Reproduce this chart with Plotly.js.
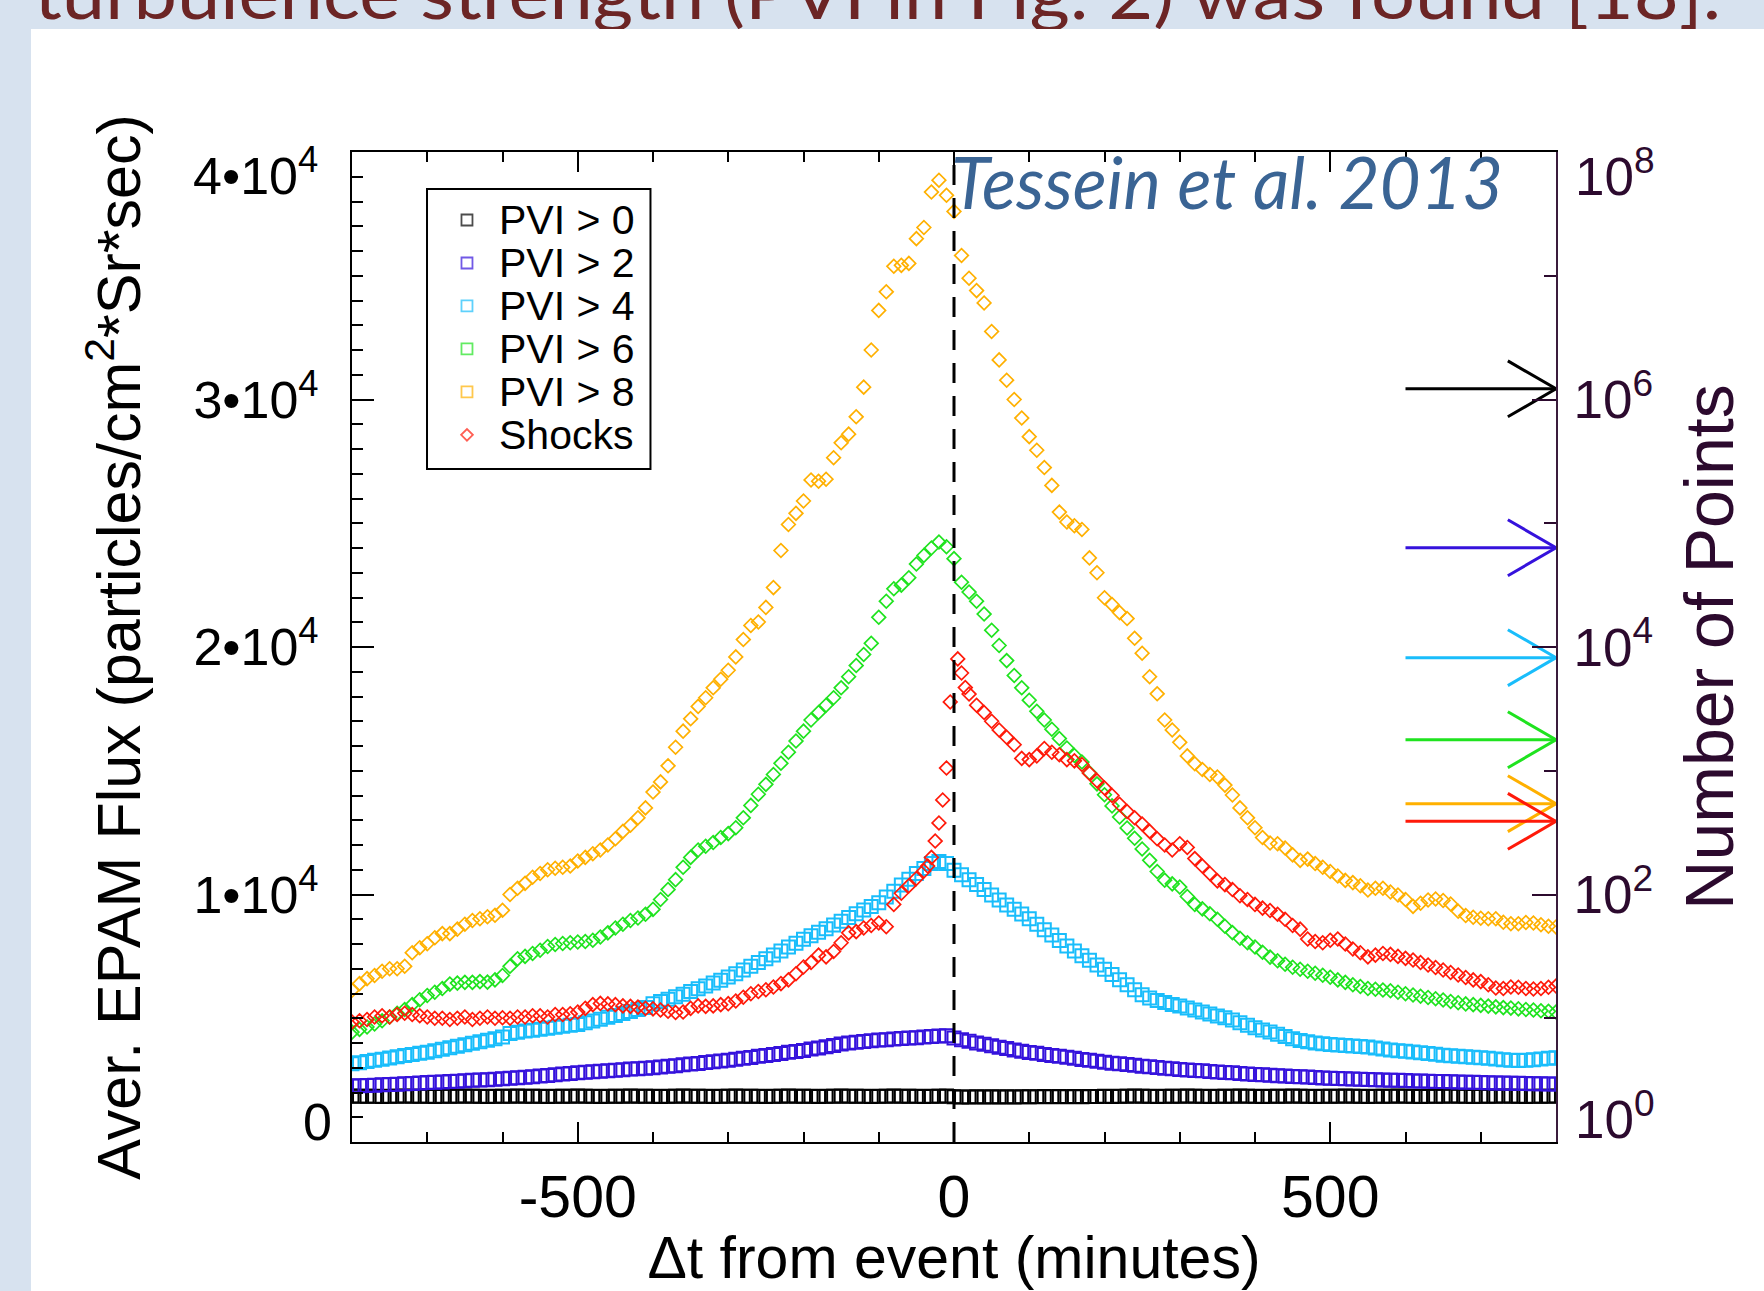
<!DOCTYPE html>
<html>
<head>
<meta charset="utf-8">
<script src="https://cdn.plot.ly/plotly-3.0.1.min.js"></script>
<style>
html,body{margin:0;padding:0;width:1764px;height:1291px;overflow:hidden;background:#d7e2ef;}
#panel{position:absolute;left:31px;top:29px;width:1733px;height:1262px;background:#ffffff;}
#chart{position:absolute;left:0;top:0;width:1764px;height:1291px;}
#slide{position:absolute;left:0;top:0;}
</style>
</head>
<body>
<svg id="slide" width="1764" height="40"><text x="34" y="19" font-family="Lato, 'Open Sans', sans-serif" font-size="70" fill="#6c2525" textLength="1687" lengthAdjust="spacingAndGlyphs">turbulence strength (PVI in Fig. 2) was found [18].</text></svg>
<div id="panel"></div>
<div id="chart"></div>
<script>
// ---------------- data ----------------
const seriesNames  = ['PVI > 0','PVI > 2','PVI > 4','PVI > 6','PVI > 8','Shocks'];
const seriesColors = ['#000000','#3512dc','#19bdfb','#1fe31f','#ffb000','#ff1a0a'];

// time from event (minutes), shared by the PVI curves
const timeMin = [-800,-790,-780,-770,-760,-750,-740,-730,-720,-710,
-700,-690,-680,-670,-660,-650,-640,-630,-620,-610,
-600,-590,-580,-570,-560,-550,-540,-530,-520,-510,
-500,-490,-480,-470,-460,-450,-440,-430,-420,-410,
-400,-390,-380,-370,-360,-350,-340,-330,-320,-310,
-300,-290,-280,-270,-260,-250,-240,-230,-220,-210,
-200,-190,-180,-170,-160,-150,-140,-130,-120,-110,
-100,-90,-80,-70,-60,-50,-40,-30,-20,-10,
0,10,20,30,40,50,60,70,80,90,
100,110,120,130,140,150,160,170,180,190,
200,210,220,230,240,250,260,270,280,290,
300,310,320,330,340,350,360,370,380,390,
400,410,420,430,440,450,460,470,480,490,
500,510,520,530,540,550,560,570,580,590,
600,610,620,630,640,650,660,670,680,690,
700,710,720,730,740,750,760,770,780,790,
800];

const fluxPVI0 = [1860,1850,1850,1850,1840,1850,1850,1860,1850,1850,
1850,1840,1850,1850,1850,1860,1850,1850,1840,1850,
1850,1850,1860,1850,1850,1850,1840,1850,1850,1850,
1860,1850,1850,1840,1850,1850,1850,1860,1850,1850,
1850,1840,1850,1850,1860,1850,1850,1850,1840,1850,
1850,1860,1850,1850,1850,1840,1850,1850,1860,1850,
1850,1850,1840,1850,1850,1860,1850,1850,1850,1840,
1850,1850,1860,1850,1850,1850,1840,1850,1850,1860,
1830,1820,1820,1830,1820,1830,1820,1830,1820,1830,
1830,1830,1840,1830,1840,1830,1840,1830,1840,1840,
1850,1840,1850,1850,1860,1850,1850,1840,1850,1850,
1850,1860,1850,1850,1840,1850,1850,1850,1860,1850,
1850,1840,1850,1850,1850,1860,1850,1850,1840,1850,
1850,1850,1860,1850,1850,1840,1850,1850,1850,1860,
1850,1850,1840,1850,1850,1850,1860,1850,1850,1840,
1850,1850,1850,1860,1850,1850,1840,1850,1850,1850,
1860];

const fluxPVI2 = [2260,2275,2280,2295,2310,2325,2335,2350,2365,2380,
2400,2410,2425,2445,2455,2470,2490,2505,2520,2540,
2560,2575,2600,2615,2640,2665,2690,2715,2745,2770,
2800,2815,2840,2855,2880,2895,2920,2945,2960,2980,
3000,3035,3060,3085,3120,3150,3175,3210,3245,3270,
3300,3345,3380,3415,3460,3500,3535,3580,3625,3660,
3700,3755,3800,3845,3900,3955,3995,4030,4065,4090,
4120,4135,4160,4185,4200,4215,4240,4265,4280,4290,
4200,4135,4070,4005,3950,3885,3830,3775,3720,3665,
3620,3585,3540,3495,3460,3425,3380,3335,3300,3265,
3220,3185,3160,3135,3100,3065,3040,3015,2980,2955,
2930,2905,2890,2875,2850,2825,2810,2795,2770,2745,
2730,2715,2700,2680,2665,2650,2640,2625,2605,2590,
2580,2570,2555,2550,2540,2525,2520,2510,2495,2490,
2480,2465,2460,2455,2445,2440,2430,2425,2415,2410,
2400,2395,2385,2385,2375,2370,2365,2355,2350,2345,
2340];

const fluxPVI4 = [3160,3200,3250,3300,3340,3390,3440,3490,3540,3590,
3630,3690,3750,3810,3870,3930,3990,4050,4110,4170,
4240,4380,4430,4480,4520,4560,4600,4640,4680,4720,
4750,4820,4890,4960,5040,5110,5190,5270,5350,5430,
5590,5680,5770,5870,5970,6080,6190,6300,6420,6540,
6665,6800,6950,7100,7250,7400,7560,7720,7880,8030,
8190,8330,8470,8620,8770,8920,9070,9220,9370,9520,
9670,9900,10130,10380,10620,10850,11050,11250,11330,11250,
10980,10800,10600,10400,10200,9980,9780,9580,9400,9210,
9020,8800,8580,8360,8140,7920,7720,7530,7340,7150,
6975,6770,6560,6350,6150,5950,5820,5720,5640,5560,
5490,5410,5330,5250,5170,5090,5020,4930,4820,4720,
4620,4530,4440,4350,4260,4170,4100,4050,4000,3970,
3940,3920,3900,3880,3860,3840,3800,3760,3720,3690,
3670,3640,3610,3580,3550,3510,3480,3460,3440,3420,
3400,3380,3350,3320,3300,3290,3300,3320,3350,3380,
3400];

const fluxPVI6 = [4440,4550,4650,4770,4900,5050,5200,5350,5550,5750,
5920,6050,6200,6380,6420,6450,6450,6480,6460,6550,
6730,7100,7400,7500,7620,7750,7900,7980,8020,8050,
8080,8100,8150,8280,8450,8650,8800,8950,9050,9200,
9400,9800,10200,10600,11100,11500,11800,11950,12100,12300,
12460,12700,13100,13600,14050,14450,14850,15300,15750,16200,
16600,17050,17350,17650,17950,18350,18800,19250,19700,20150,
21200,21850,22350,22500,22800,23350,23700,24000,24240,24050,
23570,22620,22220,21850,21330,20680,20060,19450,18850,18350,
17850,17400,17050,16680,16300,15920,15620,15350,14920,14470,
14030,13580,13130,12690,12270,11840,11380,10930,10580,10430,
10300,9920,9600,9420,9220,9000,8720,8460,8230,8050,
7880,7670,7470,7320,7180,7060,6980,6900,6820,6740,
6660,6550,6450,6350,6280,6200,6170,6140,6110,6050,
5990,5940,5890,5840,5790,5740,5680,5630,5580,5550,
5520,5490,5460,5430,5410,5380,5350,5330,5300,5280,
5250];

const fluxPVI8 = [6130,6400,6600,6730,6900,7000,7000,7100,7650,7850,
8010,8250,8420,8420,8600,8800,8950,9020,9100,9160,
9360,10000,10250,10450,10700,10850,11000,11060,11100,11150,
11350,11500,11650,11800,12000,12250,12550,12800,13100,13500,
14140,14550,15200,15950,16600,17100,17600,17950,18350,18700,
19060,19600,20300,20870,21010,21600,22400,23900,24950,25400,
25900,26750,26700,26780,27650,28250,28600,29300,30500,32000,
33600,34350,35380,35420,35500,36500,36950,38380,38860,38250,
37600,35820,34900,34400,33900,32750,31600,30780,30000,29250,
28500,27950,27250,26530,25450,25050,24900,24750,23600,23000,
21990,21720,21390,21150,20350,19750,18800,18110,17050,16650,
16150,15600,15280,15050,14850,14750,14420,14020,13500,13100,
12700,12300,12080,12050,11880,11600,11380,11430,11250,11100,
10930,10750,10570,10480,10350,10180,10250,10250,10100,9980,
9800,9520,9650,9780,9820,9760,9620,9320,9150,9080,
9040,9020,9020,8880,8820,8820,8870,8850,8780,8720,
8690];

// shocks: finer sampling around the event
const shockTime = [-800,-790,-780,-770,-760,-750,-740,-730,-720,-710,
-700,-690,-680,-670,-660,-650,-640,-630,-620,-610,
-600,-590,-580,-570,-560,-550,-540,-530,-520,-510,
-500,-490,-480,-470,-460,-450,-440,-430,-420,-410,
-400,-390,-380,-370,-360,-350,-340,-330,-320,-310,
-300,-290,-280,-270,-260,-250,-240,-230,-220,-210,
-200,-190,-180,-170,-160,-150,-140,-130,-120,-110,
-100,-90,-80,-70,-60,-50,-40,
-35,-30,-25,-20,-15,-10,-5,
5,10,15,20,
30,40,50,60,70,80,90,100,
110,120,130,140,150,160,170,180,190,200,
210,220,230,240,250,260,270,280,290,300,
310,320,330,340,350,360,370,380,390,400,
410,420,430,440,450,460,470,480,490,500,
510,520,530,540,550,560,570,580,590,600,
610,620,630,640,650,660,670,680,690,700,
710,720,730,740,750,760,770,780,790,800];

const shockFlux = [4850,4900,4950,5050,5100,5050,5150,5200,5150,5100,
5050,5000,5000,4950,5000,5050,4950,5000,5050,5000,
5020,5000,5050,5050,5100,5100,5050,5150,5150,5180,
5250,5400,5550,5600,5580,5550,5500,5480,5450,5400,
5380,5330,5280,5230,5250,5400,5500,5480,5500,5550,
5590,5700,5850,5990,6080,6150,6260,6400,6550,6800,
7070,7250,7550,7480,7700,8050,8450,8500,8650,8750,
8850,8700,9600,10050,10350,10650,10950,
11150,11500,12160,12890,13820,15110,17780,
19520,18950,18360,18100,
17650,17350,17000,16650,16350,16050,15500,15450,
15600,15900,15750,15650,15450,15400,15250,14900,14600,14300,
14000,13650,13350,13100,12850,12550,12250,12000,11800,12050,
11900,11450,11150,10850,10550,10400,10200,9950,9800,9600,
9450,9350,9200,9000,8750,8600,8200,8100,8050,8150,
8200,8000,7800,7650,7480,7550,7620,7580,7500,7420,
7350,7250,7150,7050,6950,6850,6750,6650,6550,6480,
6350,6220,6200,6260,6250,6200,6180,6200,6250,6300];

// number of points in each sample (right axis arrows)
const pointCounts = [1.22e6, 6.34e4, 8.2e3, 1.78e3, 542, 390];

// axis ticks; the end labels are drawn nudged inward, as in the original figure
const yTickVals  = [0, 10000, 20000, 30000, 40000];
const yTickText  = ['0','1•10<sup>4</sup>','2•10<sup>4</sup>','3•10<sup>4</sup>','4•10<sup>4</sup>'];
const xTickVals  = [-500, 0, 500];
const xTickText  = ['-500','0','500'];
const y2TickVals = [1, 100, 1e4, 1e6, 1e8];
const y2TickText = ['10<sup>0</sup>','10<sup>2</sup>','10<sup>4</sup>','10<sup>6</sup>','10<sup>8</sup>'];
const y2MinorVals = [10, 1000, 1e5, 1e7];

// ---------------- styling ----------------
const FONT = 'Liberation Sans, Arial, Helvetica, sans-serif';
const PURPLE = '#2c0a2e';
const seriesFlux = [fluxPVI0, fluxPVI2, fluxPVI4, fluxPVI6, fluxPVI8, shockFlux];
const seriesTime = [timeMin, timeMin, timeMin, timeMin, timeMin, shockTime];
const plotSymbols = ['square-open','square-open','square-open','diamond-open','diamond-open','diamond-open'];
const plotSizes   = [13, 13, 13, 10.5, 10.5, 10.5];
const plotLineW   = [2, 2, 2, 1.7, 1.7, 1.7];
const legendSymbols = ['square-open','square-open','square-open','square-open','square-open','diamond-open'];

const traces = [];
for (let i = 0; i < seriesNames.length; i++) {
  traces.push({
    type: 'scatter', mode: 'markers', name: seriesNames[i],
    x: seriesTime[i], y: seriesFlux[i],
    xaxis: 'x', yaxis: 'y', showlegend: false,
    marker: {symbol: plotSymbols[i], size: plotSizes[i], color: seriesColors[i],
             line: {color: seriesColors[i], width: plotLineW[i]}},
    hoverinfo: 'x+y+name'
  });
}

// arrows marking number of points (on log right axis)
const ARROW_START = 600, ARROW_END = 800, HEAD_START = 736, HEAD_DEC = 0.226;
const headF = Math.pow(10, HEAD_DEC);
for (let i = 0; i < pointCounts.length; i++) {
  const v = pointCounts[i];
  traces.push({
    type: 'scatter', mode: 'lines', xaxis: 'x', yaxis: 'y2', showlegend: false,
    x: [ARROW_START, ARROW_END, null, HEAD_START, ARROW_END, HEAD_START],
    y: [v, v, null, v * headF, v, v / headF],
    line: {color: seriesColors[i], width: 3}, hoverinfo: 'skip'
  });
}

// hand-built legend (symbols on an overlay 0..1 axis)
const LEG = {x0: 0.0623, x1: 0.2479, y0: 0.6798, y1: 0.9626,
             symX: 0.0955, textX: 0.1204, rowTop: 0.9313, rowStep: 0.0434};
const legY = seriesNames.map((_, i) => LEG.rowTop - i * LEG.rowStep);
traces.push({
  type: 'scatter', mode: 'markers', xaxis: 'x3', yaxis: 'y3', showlegend: false,
  x: seriesNames.map(() => LEG.symX), y: legY, cliponaxis: false,
  marker: {symbol: legendSymbols, size: legendSymbols.map(s => s === 'diamond-open' ? 9 : 11),
           color: seriesColors, line: {color: seriesColors, width: 1.8}},
  hoverinfo: 'skip'
});

const annotations = seriesNames.map((n, i) => ({
  xref: 'paper', yref: 'paper', x: LEG.textX, y: legY[i], xanchor: 'left', yanchor: 'middle',
  text: n, showarrow: false, font: {family: FONT, size: 41, color: '#000'}
}));
annotations.push({
  xref: 'x', yref: 'paper', x: 0, y: 0.970, xanchor: 'left', yanchor: 'middle', xshift: -5,
  text: '<i>Tessein et al. 2013</i>', showarrow: false,
  font: {family: 'Lato, Open Sans, sans-serif', size: 71, color: '#3a6494'}
});

// end-of-axis tick labels, nudged inward like the original
const endIdx = [0, yTickVals.length - 1];
const yTickTextAxis = yTickText.map((t, i) => endIdx.includes(i) ? '' : t);
const y2TickTextAxis = y2TickText.map((t, i) => endIdx.includes(i) ? '' : t);
const END = {leftTop: [-32, -20], leftBottom: [-18, 20], rightTop: [17, -20], rightBottom: [17, 27]};
endIdx.forEach(i => {
  const atTop = i === yTickVals.length - 1;
  const L = atTop ? END.leftTop : END.leftBottom;
  const R = atTop ? END.rightTop : END.rightBottom;
  annotations.push({
    xref: 'paper', yref: 'paper', x: 0, y: atTop ? 1 : 0, xanchor: 'right', yanchor: 'middle',
    xshift: L[0], yshift: L[1], showarrow: false,
    text: yTickText[i], font: {family: FONT, size: 52, color: '#000'}
  });
  annotations.push({
    xref: 'paper', yref: 'paper', x: 1, y: atTop ? 1 : 0, xanchor: 'left', yanchor: 'middle',
    xshift: R[0], yshift: R[1], showarrow: false,
    text: y2TickText[i], font: {family: FONT, size: 53, color: PURPLE}
  });
});

const layout = {
  width: 1764, height: 1291,
  margin: {l: 352, r: 208, t: 152, b: 149, pad: 0},
  paper_bgcolor: 'rgba(0,0,0,0)', plot_bgcolor: 'rgba(0,0,0,0)',
  showlegend: false,
  font: {family: FONT, color: '#000'},
  xaxis: {
    range: [-800, 800], tickmode: 'array', tickvals: xTickVals, ticktext: xTickText,
    ticks: 'inside', ticklen: 20, tickwidth: 2, tickcolor: '#000',
    showline: true, linewidth: 2, linecolor: '#000', mirror: 'ticks',
    showgrid: false, zeroline: false,
    minor: {dtick: 100, tick0: 0, ticks: 'inside', ticklen: 10, tickwidth: 2, tickcolor: '#000', showgrid: false},
    tickfont: {family: FONT, size: 59, color: '#000'}, ticklabelstandoff: 2,
    title: {text: 'Δt from event (minutes)', font: {family: FONT, size: 59, color: '#000'}, standoff: 36}
  },
  yaxis: {
    range: [0, 40000], tickmode: 'array', tickvals: yTickVals, ticktext: yTickTextAxis,
    ticks: 'inside', ticklen: 22, tickwidth: 2, tickcolor: '#000',
    showline: true, linewidth: 2, linecolor: '#000', mirror: false,
    showgrid: false, zeroline: false,
    minor: {dtick: 1000, tick0: 0, ticks: 'inside', ticklen: 11, tickwidth: 2, tickcolor: '#000', showgrid: false},
    tickfont: {family: FONT, size: 52, color: '#000'}, ticklabelstandoff: 21,
    title: {text: 'Aver. EPAM Flux (particles/cm<sup>2</sup>*Sr*sec)', font: {family: FONT, size: 61, color: '#000'}, standoff: 33}
  },
  yaxis2: {
    type: 'log', range: [0, 8], overlaying: 'y', side: 'right', anchor: 'x',
    tickmode: 'array', tickvals: y2TickVals, ticktext: y2TickTextAxis,
    ticks: 'inside', ticklen: 24, tickwidth: 2, tickcolor: PURPLE,
    showline: true, linewidth: 2, linecolor: '#3a1c3c',
    showgrid: false, zeroline: false,
    minor: {tickvals: y2MinorVals, ticks: 'inside', ticklen: 12, tickwidth: 2, tickcolor: PURPLE, showgrid: false},
    tickfont: {family: FONT, size: 53, color: PURPLE}, ticklabelstandoff: 5,
    title: {text: 'Number of Points', font: {family: FONT, size: 68, color: PURPLE}, standoff: 33}
  },
  xaxis3: {overlaying: 'x', range: [0, 1], visible: false, fixedrange: true},
  yaxis3: {overlaying: 'y', range: [0, 1], visible: false, fixedrange: true},
  shapes: [
    {type: 'rect', xref: 'paper', yref: 'paper', x0: LEG.x0, x1: LEG.x1, y0: LEG.y0, y1: LEG.y1,
     line: {color: '#000', width: 2}, fillcolor: '#ffffff', layer: 'below'},
    {type: 'line', xref: 'x', yref: 'paper', x0: 0, x1: 0, y0: 0, y1: 1,
     line: {color: '#000', width: 3, dash: '20px,13px'}, layer: 'above'}
  ],
  annotations: annotations
};

Plotly.newPlot('chart', traces, layout, {displayModeBar: false, staticPlot: true});
</script>
</body>
</html>
